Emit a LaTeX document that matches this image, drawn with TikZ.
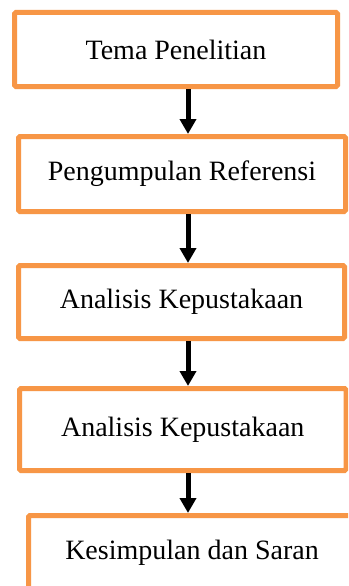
\documentclass[tikz,border=0pt]{standalone}
\usepackage{fontspec}
\setmainfont{Liberation Serif}
\usetikzlibrary{arrows.meta}
\definecolor{boxorange}{HTML}{F79646}
\begin{document}
\begin{tikzpicture}[x=1pt,y=-1pt,
  stepbox/.style={draw=boxorange, line width=5pt, fill=white, rectangle, rounded corners=1.5pt, inner sep=0pt,
     font=\fontsize{28}{34}\selectfont},
  arr/.style={draw=black, line width=5pt, -{Triangle[width=16pt,length=15pt]}}]
\useasboundingbox (0,0) rectangle (348,586);
\clip (0,0) rectangle (348,586);
\fill[white] (0,0) rectangle (348,586);
\node[stepbox, minimum width=323pt, minimum height=74pt] (b1) at (176,49.5) {Tema Penelitian};
\node[stepbox, minimum width=327pt, minimum height=75pt] (b2) at (182,174) {Pengumpulan Referensi};
\node[stepbox, minimum width=326pt, minimum height=73pt] (b3) at (181.5,302) {Analisis Kepustakaan};
\node[stepbox, minimum width=326.5pt, minimum height=82pt] (b4) at (182.75,429.5) {Analisis Kepustakaan};
\node[stepbox, minimum width=327pt, minimum height=75pt] (b5) at (192,553) {Kesimpulan dan Saran};
\coordinate (ax) at (188,0);
\draw[arr] (b1.south -| ax) -- (b2.north -| ax);
\draw[arr] (b2.south -| ax) -- (b3.north -| ax);
\draw[arr] (b3.south -| ax) -- (b4.north -| ax);
\draw[arr] (b4.south -| ax) -- (b5.north -| ax);
\end{tikzpicture}
\end{document}
